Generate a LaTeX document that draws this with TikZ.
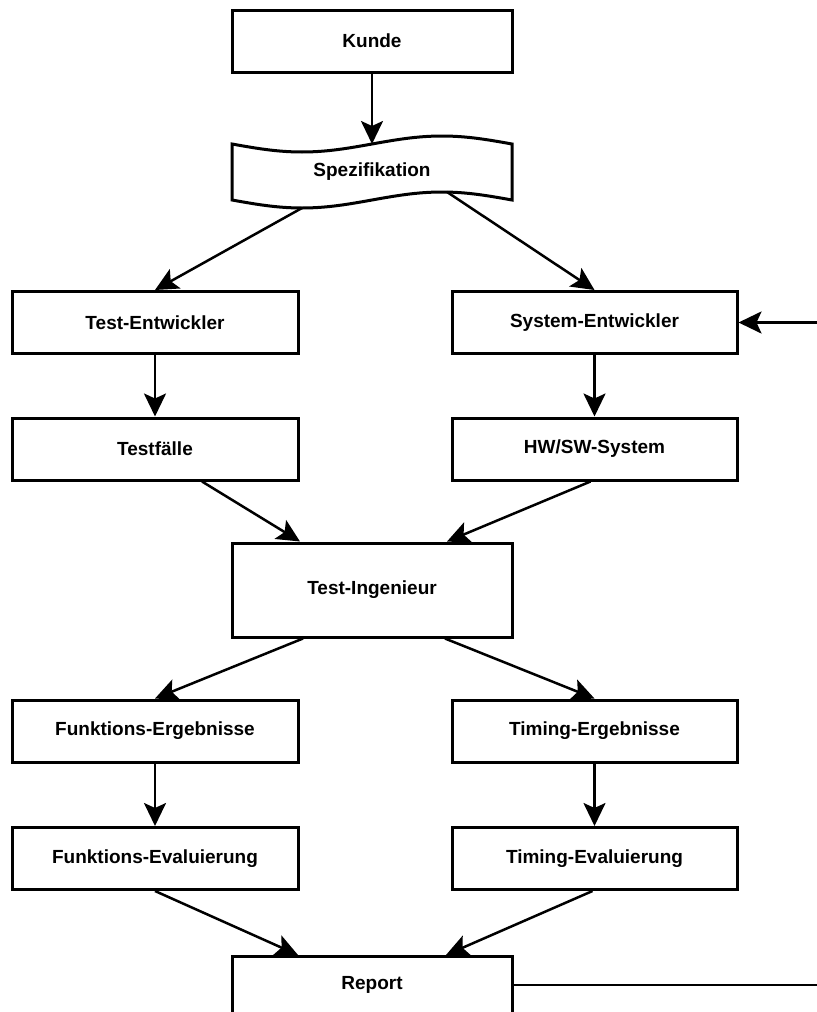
\documentclass[tikz,border=0pt]{standalone}
\usepackage{fontspec}
\setmainfont{Liberation Sans}
\usetikzlibrary{arrows.meta}

\tikzset{
  kasten/.style={draw, line width=1.5pt, minimum height=31pt, inner sep=0pt,
    font=\bfseries\fontsize{9.5}{11}\selectfont},
  schrift/.style={font=\bfseries\fontsize{9.5}{11}\selectfont},
  pfeil/.style={-{Stealth[length=11.5pt,width=11pt,inset=2.5pt]}, line width=1.25pt},
}

\begin{document}
\begin{tikzpicture}[x=0.5pt, y=-0.5pt]
    \useasboundingbox (0,0) rectangle (817,1012);
    \clip (0,0) rectangle (817,1012);

    % Kunde und Spezifikation
    \node[kasten, minimum width=140pt] (kunde) at (372,41) {Kunde};
    \draw[line width=1.5pt] (232,144) sin (302,152) cos (372,144) sin (442,136) cos (512,144)
        -- (512,200) sin (442,192) cos (372,200) sin (302,208) cos (232,200) -- cycle;
    \node[schrift, minimum width=140pt, minimum height=28pt] (spez) at (372,172) {Spezifikation};
    \coordinate (spezO) at (372,144);
    \coordinate (spezL) at (302,208);
    \coordinate (spezR) at (447,192);

    % Entwickler
    \node[kasten, minimum width=143pt] (testentw) at (155,322.5) {Test-Entwickler};
    \node[kasten, minimum width=142.5pt] (sysentw) at (594.5,322.5) {System-Entwickler};
    \coordinate (randO) at (817,322.5);

    % Testfaelle und System
    \node[kasten, minimum width=143pt] (testf) at (155,449) {Testfälle};
    \node[kasten, minimum width=142.5pt] (hwsw) at (594.5,449) {HW/SW-System};

    % Test-Ingenieur
    \node[kasten, minimum width=140pt, minimum height=47pt] (ingenieur) at (372,590) {Test-Ingenieur};

    % Ergebnisse
    \node[kasten, minimum width=143pt] (fergeb) at (155,731) {Funktions-Ergebnisse};
    \node[kasten, minimum width=142.5pt] (tergeb) at (594.5,731) {Timing-Ergebnisse};

    % Evaluierung
    \node[kasten, minimum width=143pt] (feval) at (155,858.5) {Funktions-Evaluierung};
    \node[kasten, minimum width=142.5pt] (teval) at (594.5,858.5) {Timing-Evaluierung};

    % Report
    \node[kasten, minimum width=140pt, minimum height=60pt, anchor=north] (report) at (372,955) {};
    \node[schrift] (reporttext) at (372,985) {Report};
    \coordinate (randU) at (817,985);

    % Pfeile
    \draw[pfeil] (kunde) -- (spezO);
    \draw[pfeil] (spezL) -- (testentw.north);
    \draw[pfeil] (spezR) -- (sysentw.north);
    \draw[pfeil] (randO) -- (sysentw.east);
    \draw[pfeil] (testentw) -- (testf);
    \draw[pfeil] (sysentw) -- (hwsw);
    \draw[pfeil] ([xshift=23.5pt]testf.south) -- ([xshift=-36pt]ingenieur.north);
    \draw[pfeil] ([xshift=-2pt]hwsw.south) -- ([xshift=37.5pt]ingenieur.north);
    \draw[pfeil] ([xshift=-34.5pt]ingenieur.south) -- (fergeb.north);
    \draw[pfeil] ([xshift=36.5pt]ingenieur.south) -- (tergeb.north);
    \draw[pfeil] (fergeb) -- (feval);
    \draw[pfeil] (tergeb) -- (teval);
    \draw[pfeil] (feval.south) -- ([xshift=-37pt]report.north);
    \draw[pfeil] ([xshift=-1pt]teval.south) -- ([xshift=37pt]report.north);
    \draw[line width=1.25pt] (report.east |- reporttext) -- (randU);
\end{tikzpicture}
\end{document}
